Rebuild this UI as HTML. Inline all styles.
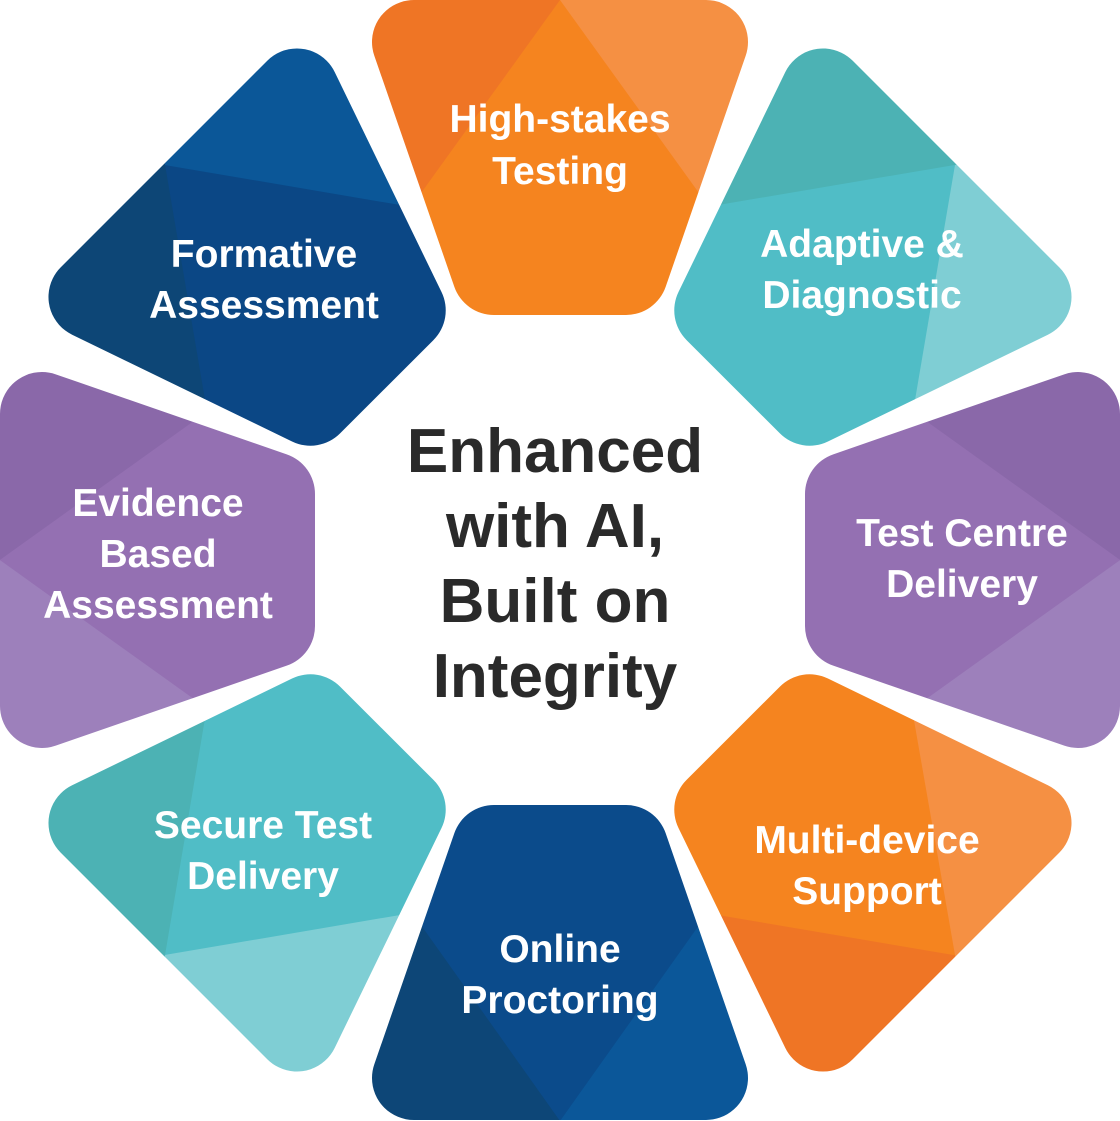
<!DOCTYPE html>
<html><head><meta charset="utf-8"><style>
html,body{margin:0;padding:0;background:#fff;}
svg{display:block;}
text{font-family:"Liberation Sans",sans-serif;font-weight:bold;}
</style></head><body>
<svg width="1120" height="1121" viewBox="0 0 1120 1121" xmlns="http://www.w3.org/2000/svg">
<defs>
<g id="base">
<polygon points="414,42 706,42 626,273 494,273" stroke-width="84" stroke-linejoin="round"/>
</g>
<mask id="m0" maskUnits="userSpaceOnUse" x="0" y="0" width="1120" height="1121"><use href="#base" fill="#fff" stroke="#fff"/></mask>
<mask id="m1" maskUnits="userSpaceOnUse" x="0" y="0" width="1120" height="1121"><g transform="rotate(45 560 560)"><use href="#base" fill="#fff" stroke="#fff"/></g></mask>
<mask id="m2" maskUnits="userSpaceOnUse" x="0" y="0" width="1120" height="1121"><g transform="rotate(90 560 560)"><use href="#base" fill="#fff" stroke="#fff"/></g></mask>
<mask id="m3" maskUnits="userSpaceOnUse" x="0" y="0" width="1120" height="1121"><g transform="rotate(135 560 560)"><use href="#base" fill="#fff" stroke="#fff"/></g></mask>
<mask id="m4" maskUnits="userSpaceOnUse" x="0" y="0" width="1120" height="1121"><g transform="rotate(180 560 560)"><use href="#base" fill="#fff" stroke="#fff"/></g></mask>
<mask id="m5" maskUnits="userSpaceOnUse" x="0" y="0" width="1120" height="1121"><g transform="rotate(225 560 560)"><use href="#base" fill="#fff" stroke="#fff"/></g></mask>
<mask id="m6" maskUnits="userSpaceOnUse" x="0" y="0" width="1120" height="1121"><g transform="rotate(270 560 560)"><use href="#base" fill="#fff" stroke="#fff"/></g></mask>
<mask id="m7" maskUnits="userSpaceOnUse" x="0" y="0" width="1120" height="1121"><g transform="rotate(315 560 560)"><use href="#base" fill="#fff" stroke="#fff"/></g></mask>
</defs>

<g mask="url(#m0)">
<rect x="0" y="0" width="1120" height="1121" fill="#f5841f"/>
<polygon points="0,-10 560,0 272,400 0,400" fill="#ef7525"/>
<polygon points="560,0 1120,-10 1120,400 848,400" fill="#f59043"/>
</g>
<g mask="url(#m1)">
<rect x="0" y="0" width="1120" height="1121" fill="#50bdc6"/>
<polygon points="600,0 1120,0 1120,137 600,225" fill="#4cb2b4"/>
<polygon points="955,165 1120,137 1120,500 898,500" fill="#7fced4"/>
</g>
<g mask="url(#m2)">
<rect x="0" y="0" width="1120" height="1121" fill="#9470b2"/>
<polygon points="760,302 1130,567 1130,300" fill="#8a68a9"/>
<polygon points="760,818 1130,553 1130,830" fill="#9d80bb"/>
</g>
<g mask="url(#m3)">
<rect x="0" y="0" width="1120" height="1121" fill="#f5841f"/>
<polygon points="600,895 1130,985 1130,1121 600,1121" fill="#ef7525"/>
<polygon points="893,600 1130,600 1130,1121 984,1121" fill="#f59043"/>
</g>
<g mask="url(#m4)">
<rect x="0" y="0" width="1120" height="1121" fill="#0b4b8b"/>
<polygon points="300,780 318,780 560,1121 300,1121" fill="#0d4677"/>
<polygon points="802,780 820,780 820,1121 560,1121" fill="#0b5799"/>
</g>
<g mask="url(#m5)">
<rect x="0" y="0" width="1120" height="1121" fill="#50bdc6"/>
<polygon points="0,983 500,898 500,1121 0,1121" fill="#7fced4"/>
<polygon points="0,600 225,600 137,1121 0,1121" fill="#4cb2b4"/>
</g>
<g mask="url(#m6)">
<rect x="0" y="0" width="1120" height="1121" fill="#9470b2"/>
<polygon points="-10,567 360,302 360,290 -10,290" fill="#8a68a9"/>
<polygon points="-10,553 360,818 360,830 -10,830" fill="#9d80bb"/>
</g>
<g mask="url(#m7)">
<rect x="0" y="0" width="1120" height="1121" fill="#0b4785"/>
<polygon points="0,0 500,0 500,222 0,137" fill="#0b5798"/>
<polygon points="0,0 137,0 222,500 0,500" fill="#0d4676"/>
</g>

<g fill="#fff" font-size="39" text-anchor="middle">
<text x="560" y="132">High-stakes</text><text x="560" y="184">Testing</text>
<text x="264" y="267">Formative</text><text x="264" y="318">Assessment</text>
<text x="862" y="257">Adaptive &amp;</text><text x="862" y="308">Diagnostic</text>
<text x="158" y="516">Evidence</text><text x="158" y="567">Based</text><text x="158" y="618">Assessment</text>
<text x="962" y="546">Test Centre</text><text x="962" y="597">Delivery</text>
<text x="263" y="838">Secure Test</text><text x="263" y="889">Delivery</text>
<text x="560" y="962">Online</text><text x="560" y="1013">Proctoring</text>
<text x="867" y="853">Multi-device</text><text x="867" y="904">Support</text>
</g>
<g fill="#2a2a2a" font-size="62" text-anchor="middle">
<text x="555" y="472">Enhanced</text>
<text x="555" y="547">with AI,</text>
<text x="555" y="622">Built on</text>
<text x="555" y="697">Integrity</text>
</g>
</svg>
</body></html>
